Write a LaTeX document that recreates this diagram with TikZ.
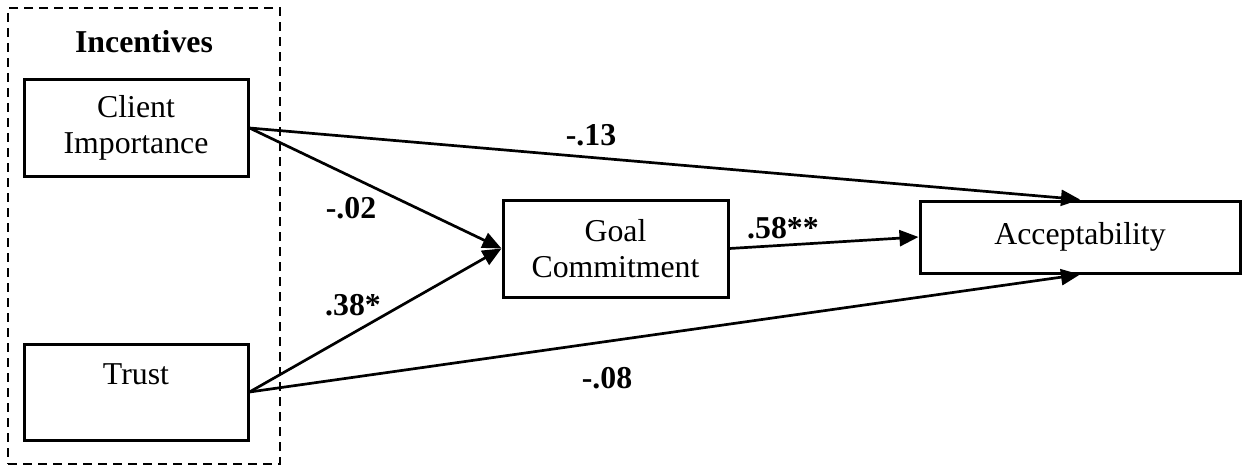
\documentclass[tikz,border=0pt]{standalone}
\usepackage{fontspec}
\setmainfont{Liberation Serif}
\usetikzlibrary{arrows.meta}
\begin{document}
\begin{tikzpicture}[x=1pt,y=-1pt,
  box/.style={draw,line width=3pt,rectangle,inner sep=0pt,align=center,font=\fontsize{31.8}{36}\selectfont},
  lbl/.style={inner sep=0pt,font=\fontsize{31.8}{36}\selectfont\bfseries},
  conn/.style={line width=2.7pt,-{Triangle[length=19pt,width=16pt]}}]
\useasboundingbox (0,0) rectangle (1244,468);
\node[draw,dash pattern=on 9pt off 6pt,line width=2.6pt,minimum width=272pt,minimum height=456pt,inner sep=0pt] (grp) at (144,236) {};
\node[lbl] (inc) at (144,42) {Incentives};
\node[box,minimum width=224pt,minimum height=96pt] (ci) at (136,128) {Client\\Importance};
\node[box,minimum width=224pt,minimum height=96pt] (tr) at (136,392) {Trust\\\mbox{}};
\node[box,minimum width=225pt,minimum height=97pt] (gc) at (615.5,248.5) {Goal\\Commitment};
\node[box,minimum width=320pt,minimum height=72pt] (ac) at (1080,237) {Acceptability};
\draw[conn] (ci.east) -- (gc.west);
\draw[conn] (tr.east) -- (gc.west);
\draw[conn] (gc.east) -- (ac.west);
\draw[conn] (ci.east) -- (ac.north);
\draw[conn] (tr.east) -- (ac.south);
\node[lbl] (l1) at (591,135) {-.13};
\node[lbl] (l2) at (351,208) {-.02};
\node[lbl] (l3) at (353,305) {.38*};
\node[lbl] (l4) at (783,228) {.58**};
\node[lbl] (l5) at (607,378) {-.08};
\end{tikzpicture}
\end{document}
